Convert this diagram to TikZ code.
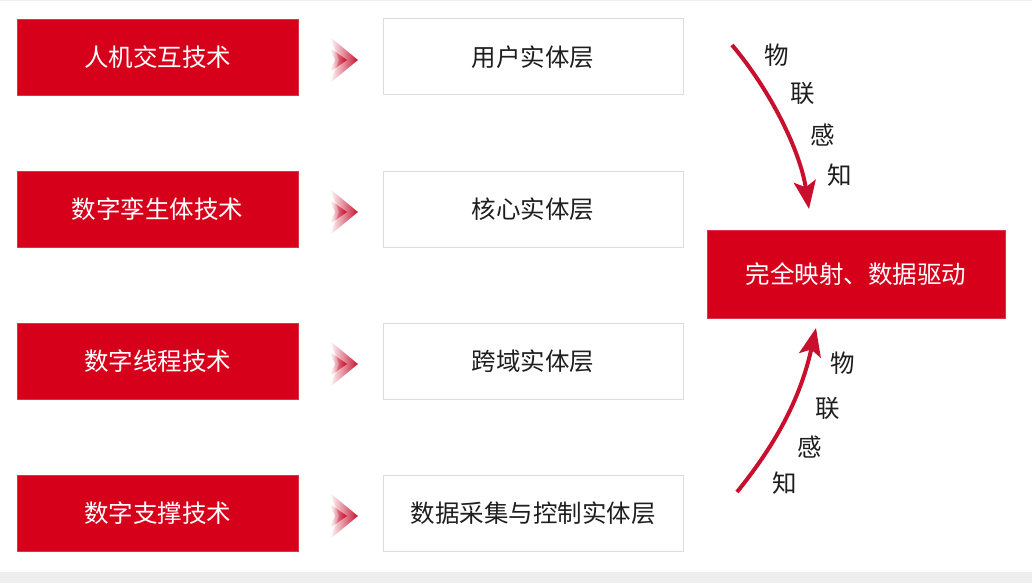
\documentclass[tikz,border=0pt]{standalone}
\usepackage{fontspec}
\setmainfont{Noto Sans CJK SC}
\usetikzlibrary{arrows.meta,fadings}
\definecolor{mainred}{RGB}{215,0,26}
\definecolor{arrowred}{RGB}{200,16,46}
\definecolor{boxgray}{RGB}{220,220,220}
\definecolor{txt}{RGB}{30,30,30}
\definecolor{band}{RGB}{238,238,238}
\tikzfading[name=chevfade, left color=transparent!100, right color=transparent!0]
\tikzset{
  redbox/.style={fill=mainred, draw=mainred!80, line width=0.6pt, minimum width=281pt, minimum height=76pt, text=white, font=\fontsize{24.5}{28}\selectfont, inner sep=0pt},
  whitebox/.style={fill=white, draw=boxgray, line width=1pt, minimum width=300pt, minimum height=76pt, text=txt, font=\fontsize{24.5}{28}\selectfont, inner sep=0pt},
  bigred/.style={fill=mainred, draw=mainred!80, line width=0.6pt, minimum width=298pt, minimum height=88pt, text=white, font=\fontsize{24.5}{28}\selectfont, inner sep=0pt},
  lbl/.style={text=txt, font=\fontsize{24.5}{28}\selectfont, inner sep=0pt},
  flow/.style={draw=arrowred, line width=4pt, -{Stealth[length=28pt,width=22pt,inset=6pt]}},
  chev/.style={fill=arrowred, path fading=chevfade}
}
\begin{document}
\begin{tikzpicture}[x=1pt,y=-1pt]
\useasboundingbox (0,0) rectangle (1032,583);
\fill[white] (0,0) rectangle (1032,583);
\fill[band] (0,572) rectangle (1032,583);
\fill[band] (0,0) rectangle (1032,1.5);

% left red boxes
\node[redbox] (t1) at (157.5,57) {人机交互技术};
\node[redbox] (t2) at (157.5,209) {数字孪生体技术};
\node[redbox] (t3) at (157.5,361) {数字线程技术};
\node[redbox] (t4) at (157.5,513) {数字支撑技术};

% white boxes
\node[whitebox] (l1) at (533,57) {用户实体层};
\node[whitebox] (l2) at (533,209) {核心实体层};
\node[whitebox] (l3) at (533,361) {跨域实体层};
\node[whitebox] (l4) at (533,513) {数据采集与控制实体层};

% chevrons
\foreach \y in {60,212,364,516}{
  \fill[chev] (330,\y-23) -- (358,\y) -- (330,\y+23) -- (339,\y) -- cycle;
  \fill[chev] (330,\y-12) -- (347,\y) -- (330,\y+12) -- (335,\y) -- cycle;
}

% right box
\node[bigred] (core) at (856,274) {完全映射、数据驱动};

% arrows
\coordinate (a1s) at (732,45);
\coordinate (a1e) at (809,209);
\draw[flow] (a1s) .. controls (770,90) and (800,150) .. (a1e);
\coordinate (a2s) at (737,492);
\coordinate (a2e) at (816,328);
\draw[flow] (a2s) .. controls (775,445) and (800,400) .. (a2e);

% labels
\node[lbl] (d1) at (777,55) {物};
\node[lbl] (d2) at (803,93) {联};
\node[lbl] (d3) at (823,135) {感};
\node[lbl] (d4) at (840,175) {知};
\node[lbl] (u1) at (843,363) {物};
\node[lbl] (u2) at (828,408) {联};
\node[lbl] (u3) at (810,447) {感};
\node[lbl] (u4) at (785,483) {知};
\end{tikzpicture}
\end{document}
